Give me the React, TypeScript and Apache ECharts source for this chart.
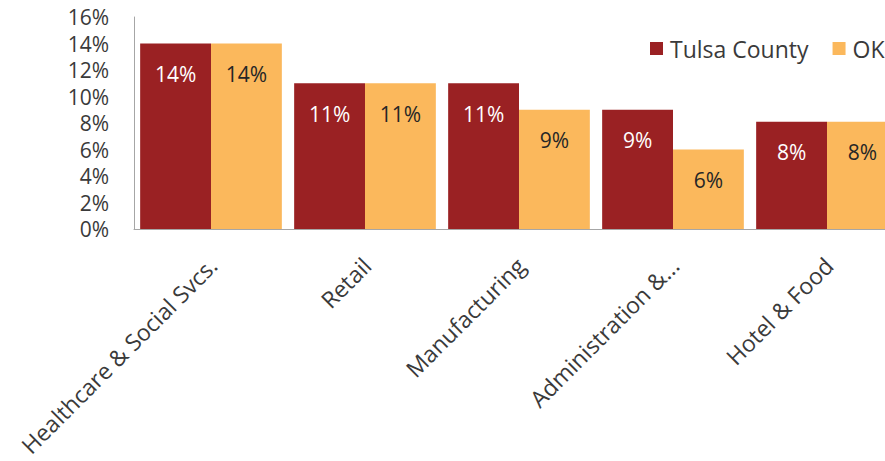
import React, { useEffect, useRef } from "react";
import * as echarts from "echarts";

const categories = [
  "Healthcare & Social Svcs.",
  "Retail",
  "Manufacturing",
  "Administration &...",
  "Hotel & Food",
];
const tulsaValues = [14, 11, 11, 9, 8.1];
const okValues = [14, 11, 9, 6, 8.1];
const seriesNames = ["Tulsa County", "OK"];

const FONT = "'Open Sans', sans-serif";
const TEXT = "#3A3A3A";

export default function App() {
  const ref = useRef<HTMLDivElement>(null);
  useEffect(() => {
    if (!ref.current) return;
    const chart = echarts.init(ref.current, undefined, { renderer: "svg" });
    chart.setOption({
      animation: false,
      textStyle: { fontFamily: FONT },
      color: ["#9A2123", "#FBB85C"],
      legend: {
        left: 645,
        top: 32,
        icon: "rect",
        itemWidth: 13,
        itemHeight: 13,
        itemGap: 24,
        data: seriesNames,
        textStyle: { fontSize: 23, color: TEXT, fontFamily: FONT, padding: [0, 0, 0, 2] },
      },
      grid: { left: 134, top: 17, right: 16, bottom: 232, containLabel: false },
      xAxis: {
        type: "category",
        data: categories,
        axisLine: { show: true, lineStyle: { color: "#A6A6A6", width: 1 } },
        axisTick: { show: false },
        axisLabel: {
          rotate: 45,
          interval: 0,
          align: "right",
          verticalAlign: "top",
          margin: 18,
          padding: [0, 9, 0, 0],
          fontSize: 23,
          color: TEXT,
          fontFamily: FONT,
        },
      },
      yAxis: {
        type: "value",
        min: 0,
        max: 16,
        interval: 2,
        axisLine: { show: true, lineStyle: { color: "#A6A6A6", width: 1 } },
        axisTick: { show: false },
        splitLine: { show: false },
        axisLabel: {
          formatter: "{value}%",
          margin: 25,
          fontSize: 21,
          color: TEXT,
          fontFamily: FONT,
        },
      },
      series: [
        {
          name: seriesNames[0],
          type: "bar",
          data: tulsaValues,
          barGap: "0%",
          barCategoryGap: "8%",
          label: {
            show: true,
            position: "insideTop",
            distance: 20,
            formatter: (p: any) => Math.round(p.value) + "%",
            color: "#FFFFFF",
            fontSize: 21,
            fontFamily: FONT,
          },
        },
        {
          name: seriesNames[1],
          type: "bar",
          data: okValues,
          barGap: "0%",
          barCategoryGap: "8%",
          label: {
            show: true,
            position: "insideTop",
            distance: 20,
            formatter: (p: any) => Math.round(p.value) + "%",
            color: "#262626",
            fontSize: 21,
            fontFamily: FONT,
          },
        },
      ],
    });
    return () => chart.dispose();
  }, []);
  return (
    <div
      style={{
        position: "fixed",
        left: 0,
        top: 0,
        width: 885,
        height: 461,
        overflow: "hidden",
        background: "#fff",
      }}
    >
      <div ref={ref} style={{ width: 920, height: 461 }} />
    </div>
  );
}
